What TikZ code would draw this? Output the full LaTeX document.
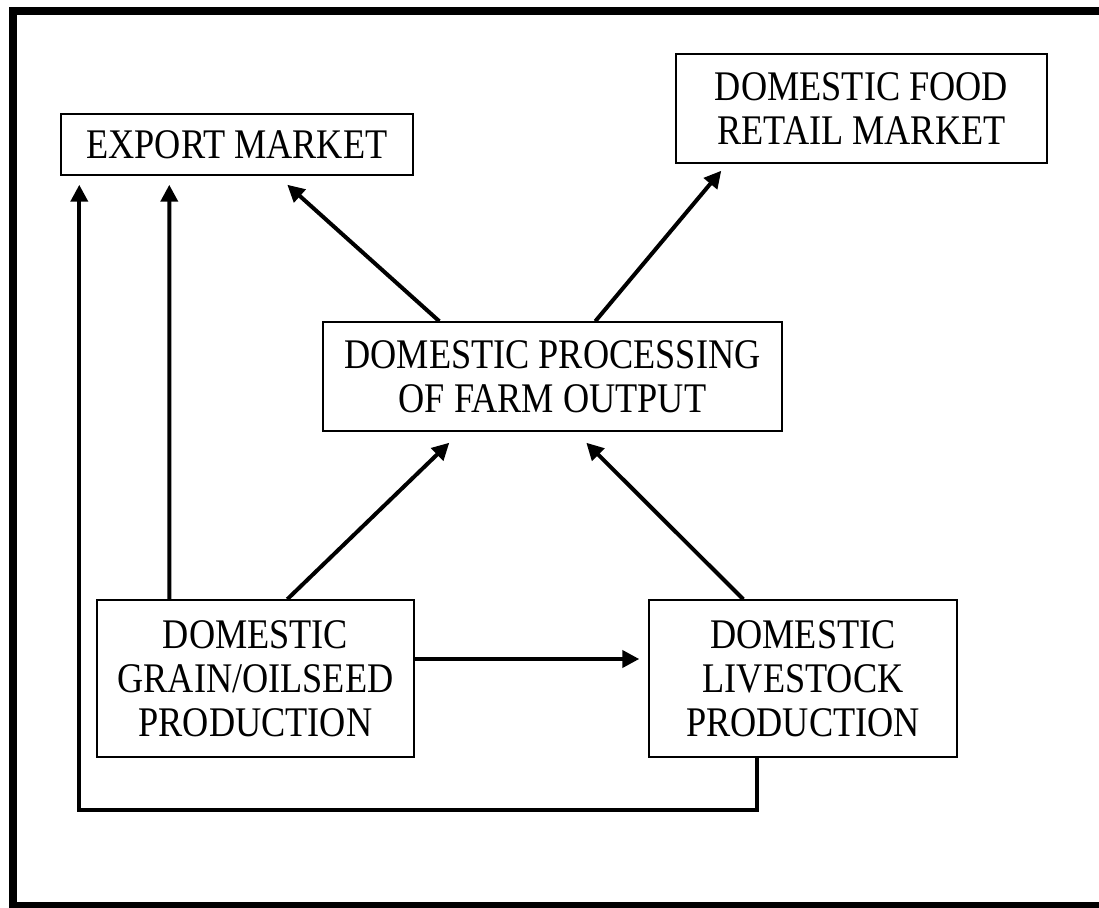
\documentclass[tikz,border=0pt]{standalone}
\usepackage{fontspec}
\setmainfont{Liberation Serif}
\newfontfamily\boxfont[FakeStretch=0.86]{Liberation Serif}
\usetikzlibrary{arrows.meta,calc}

\begin{document}
\begin{tikzpicture}[
    x=0.02cm, y=-0.02cm,
    box/.style={draw, line width=0.03cm, align=center, inner sep=0pt,
                font=\boxfont\fontsize{24}{25}\selectfont},
    arrow/.style={-{Triangle[length=0.34cm,width=0.34cm]}, line width=0.08cm},
  ]
    \fill[white] (0,0) rectangle (1099,908);
    \useasboundingbox (0,0) rectangle (1099,908);
    % Frame
    \draw[line width=0.16cm] (1099,11) -- (13,11) -- (13,906) -- (1099,906);

    % Markets
    \node[box, minimum width=7.04cm, minimum height=1.22cm] (export) at (237,144.5) {EXPORT MARKET};
    \node[box, minimum width=7.42cm, minimum height=2.18cm] (retail) at (861.5,108.5) {DOMESTIC FOOD\\RETAIL MARKET};

    % Processing
    \node[box, minimum width=9.18cm, minimum height=2.18cm] (proc) at (552.5,376.5) {DOMESTIC PROCESSING\\OF FARM OUTPUT};

    % Production
    \node[box, minimum width=6.34cm, minimum height=3.14cm] (grain) at (255.5,678.5) {DOMESTIC\\GRAIN/OILSEED\\PRODUCTION};
    \node[box, minimum width=6.16cm, minimum height=3.14cm] (live) at (803,678.5) {DOMESTIC\\LIVESTOCK\\PRODUCTION};

    % Arrows
    \draw[arrow] ($(proc.north west)+(117,0)$) -- ($(export.south west)+(227,9)$);
    \draw[arrow] ($(proc.north west)+(273,0)$) -- ($(retail.south west)+(46,7)$);
    \draw[arrow] ($(grain.north west)+(191,0)$) -- ($(proc.south west)+(127,11)$);
    \draw[arrow] ($(live.north west)+(95,0)$) -- ($(proc.south west)+(264,11)$);
    \draw[arrow] ($(grain.east)+(0,-19.5)$) -- ($(live.west)+(-9,-19.5)$);
    \draw[arrow] ($(grain.north west)+(73,0)$) -- ($(export.south west)+(109,9)$);
    \draw[arrow] ($(live.south west)+(109,0)$) -- ($(live.south west)+(109,52)$)
        -| ($(export.south west)+(19,9)$);
  \end{tikzpicture}
\end{document}
